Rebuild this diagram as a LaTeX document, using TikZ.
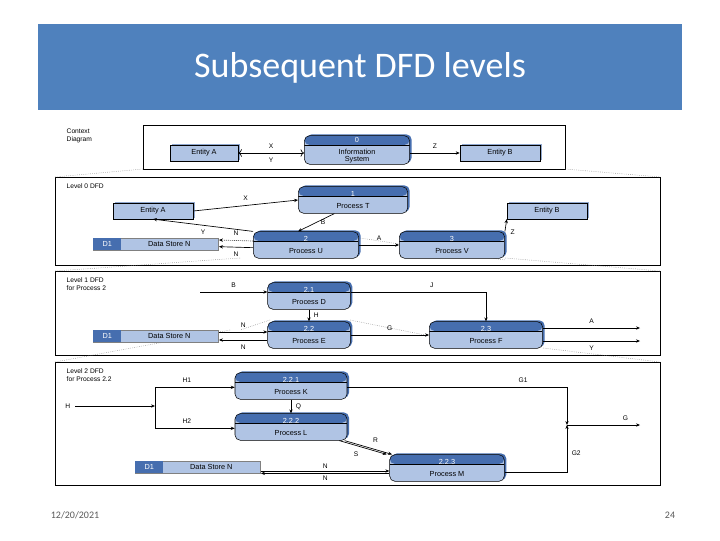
\documentclass[tikz,border=0pt]{standalone}
\usepackage{fontspec}
\setmainfont{Liberation Sans}
\newfontfamily\titlefont{Carlito}
\usetikzlibrary{shadows,arrows.meta}
\definecolor{band}{RGB}{79,129,189}
\definecolor{hdr}{RGB}{70,110,175}
\definecolor{body}{RGB}{176,196,228}
\tikzset{
  lbl/.style={font=\fontsize{5}{6}\selectfont},
  proc/.style={draw=black, line width=0.4pt, rounded corners=4pt, fill=body,
    minimum width=#1, minimum height=20pt, align=center, inner sep=1pt,
    font=\fontsize{5.5}{6.5}\selectfont,
    path picture={\fill[hdr] (path picture bounding box.north west) rectangle ([yshift=-7pt]path picture bounding box.north east);
      \draw ([yshift=-7pt]path picture bounding box.north west) -- ([yshift=-7pt]path picture bounding box.north east);},
    drop shadow={shadow xshift=1.5pt, shadow yshift=1pt, fill=hdr, opacity=1}},
  ent/.style={draw=black, fill=body, minimum width=#1, minimum height=11pt,
    font=\fontsize{5.5}{6.5}\selectfont,
    drop shadow={shadow xshift=1.2pt, shadow yshift=1pt, fill=hdr!60, opacity=1}},
  store/.style={draw=gray, fill=body, minimum width=94pt, minimum height=9pt,
    font=\fontsize{5.5}{6.5}\selectfont, inner sep=0pt},
  sid/.style={fill=hdr, text=white, minimum width=21pt, minimum height=9pt,
    font=\fontsize{5.5}{6.5}\selectfont, inner sep=0pt},
  panel/.style={draw=black, line width=0.6pt},
  flow/.style={-{Stealth[length=3pt,width=2.5pt]}, line width=0.5pt},
  zoomline/.style={gray, densely dotted, line width=0.4pt}
}
\newcommand{\pnum}[1]{\textcolor{white}{#1}\\[2.5pt]}
\begin{document}
\begin{tikzpicture}
    \pgfsetxvec{\pgfpoint{0.75pt}{0}}
    \pgfsetyvec{\pgfpoint{0}{-0.75pt}}
    \useasboundingbox (0,0) rectangle (720,540);

    % title band and footer
    \fill[band] (38,24) rectangle (682,110);
    \node[text=white, font=\titlefont\fontsize{27}{30}\selectfont] (title) at (360,68) {Subsequent DFD levels};
    \node[text=gray!70!black, font=\titlefont\fontsize{7.5}{9}\selectfont] (date) at (75,515) {12/20/2021};
    \node[text=gray!70!black, font=\titlefont\fontsize{7.5}{9}\selectfont] (page) at (670,515) {24};

    % panels
    \draw[panel] (143,125) rectangle (565,169);
    \draw[panel] (55,177) rectangle (660,265);
    \draw[panel] (55,271) rectangle (660,355);
    \draw[panel] (55,362) rectangle (660,485);
    \draw[zoomline] (143,169) -- (55,177);
    \draw[zoomline] (565,169) -- (660,177);
    \draw[zoomline] (240,258) -- (55,271);
    \draw[zoomline] (360,238) -- (505,260);
    \draw[zoomline] (505,258) -- (660,271);
    \draw[zoomline] (230,330) -- (55,362);
    \draw[zoomline] (270,320) -- (240,330);
    \draw[zoomline] (350,320) -- (430,336);
    \draw[zoomline] (543,348) -- (660,362);

    \node[lbl, align=left, anchor=north west] (t0) at (62,124) {Context\\Diagram};
    \node[lbl, anchor=north west] (t1) at (62,179) {Level 0 DFD};
    \node[lbl, align=left, anchor=north west] (t2) at (62,273) {Level 1 DFD\\for Process 2};
    \node[lbl, align=left, anchor=north west] (t3) at (62,364) {Level 2 DFD\\for Process 2.2};

    % context diagram
    \node[ent=51pt] (cA) at (204,153) {Entity A};
    \node[ent=60pt] (cB) at (500,153) {Entity B};
    \node[proc=79pt] (cIS) at (357,150) {\pnum{0}Information\\[-1pt]System};
    \draw[flow, <->] (cA) -- node[lbl, above]{X} node[lbl, below]{Y} (cA -| cIS.west);
    \draw[flow] (cB -| cIS.east) -- node[lbl, above]{Z} (cB);

    % level 0
    \node[ent=60pt] (lA) at (153,211) {Entity A};
    \node[ent=60pt] (lB) at (547,211) {Entity B};
    \node[proc=82pt] (pT) at (353,200) {\pnum{1}Process T};
    \node[proc=79pt] (pU) at (306,245) {\pnum{2}Process U};
    \node[proc=79pt] (pV) at (452,245) {\pnum{3}Process V};
    \node[store] (s0) at (156,244) {\hspace{20pt}Data Store N};
    \node[sid, anchor=west] (s0id) at (s0.west) {D1};
    \draw[flow] (lA.east) -- node[lbl, above]{X} (pT.west);
    \draw[flow] ([xshift=-14pt]pT.south) -- node[lbl, right]{B} ([xshift=-6pt]pU.north);
    \draw[flow] (pU.north west) -- node[lbl, below]{Y} (lA.south);
    \draw[flow, densely dotted] ([yshift=3pt]pU.west) -- node[lbl, above]{N} ([yshift=3pt]s0.east);
    \draw[flow] ([yshift=-2pt]pU.west) -- node[lbl, below]{N} ([yshift=-2pt]s0.east);
    \draw[flow] (pU.east) -- node[lbl, above]{A} (pV.west);
    \draw[flow] (pV.north east) -- node[lbl, below right]{Z} (lB.south west);

    % level 1
    \node[proc=62pt] (pD) at (309,296) {\pnum{2.1}Process D};
    \node[proc=62pt] (pE) at (309,335) {\pnum{2.2}Process E};
    \node[proc=85pt] (pF) at (486,335) {\pnum{2.3}Process F};
    \node[store] (s1) at (156,336) {\hspace{20pt}Data Store N};
    \node[sid, anchor=west] (s1id) at (s1.west) {D1};
    \coordinate (bIn) at (200,292);
    \coordinate (aOut) at (640,328);
    \coordinate (yOut) at (640,341);
    \draw[flow] (bIn) -- node[lbl, above]{B} (bIn -| pD.west);
    \draw[flow] (pD.south) -- node[lbl, right]{H} (pE.north);
    \draw[flow] (bIn -| pD.east) -| node[lbl, above, pos=0.3]{J} (pF.north);
    \draw[flow] ([yshift=3pt]s1.east) -- node[lbl, above]{N} ([yshift=3pt]s1.east -| pE.west);
    \draw[flow] ([yshift=-3pt]s1.east -| pE.west) -- node[lbl, below]{N} ([yshift=-3pt]s1.east);
    \draw[flow] (pE.east) -- node[lbl, above]{G} (pF.west);
    \draw[flow] (aOut -| pF.east) -- node[lbl, above]{A} (aOut);
    \draw[flow] (yOut -| pF.east) -- node[lbl, below]{Y} (yOut);

    % level 2
    \node[proc=84pt] (pK) at (291,386) {\pnum{2.2.1}Process K};
    \node[proc=84pt] (pL) at (291,427) {\pnum{2.2.2}Process L};
    \node[proc=86pt] (pM) at (447,468) {\pnum{2.2.3}Process M};
    \node[store] (s2) at (198,467) {\hspace{20pt}Data Store N};
    \node[sid, anchor=west] (s2id) at (s2.west) {D1};
    \coordinate (hIn) at (75,406);
    \coordinate (hJ) at (155,406);
    \coordinate (gJ) at (567,425);
    \coordinate (gOut) at (640,425);
    \draw[flow] (hIn) -- node[lbl, left, pos=0]{H} (hJ);
    \draw[flow] (hJ) |- node[lbl, above, pos=0.7]{H1} ([yshift=-1pt]pK.west);
    \draw[flow] (hJ) |- node[lbl, above, pos=0.7]{H2} ([yshift=-1pt]pL.west);
    \draw[flow] (pK.south) -- node[lbl, right]{Q} (pL.north);
    \draw[flow] ([xshift=-2pt]pL.south east) -- node[lbl, above right]{R} ([xshift=2pt]pM.north west);
    \draw[flow] ([xshift=-6pt]pL.south east) -- node[lbl, below left]{S} ([xshift=-2pt]pM.north west);
    \draw[flow] ([yshift=-1pt]pK.east) -| node[lbl, above, pos=0.4]{G1} (gJ);
    \draw[flow] ([yshift=-3pt]pM.east) -| node[lbl, right, pos=0.7]{G2} (gJ);
    \draw[flow] (gJ) -- node[lbl, above, pos=0.8]{G} (gOut);
    \draw[flow] ([yshift=-4pt]pM.west) -- node[lbl, above]{N} ([yshift=-4pt]pM.west -| s2.east);
    \draw[flow] ([yshift=-3pt]s2.east) -- node[lbl, below]{N} ([yshift=-3pt]s2.east -| pM.west);
\end{tikzpicture}
\end{document}
